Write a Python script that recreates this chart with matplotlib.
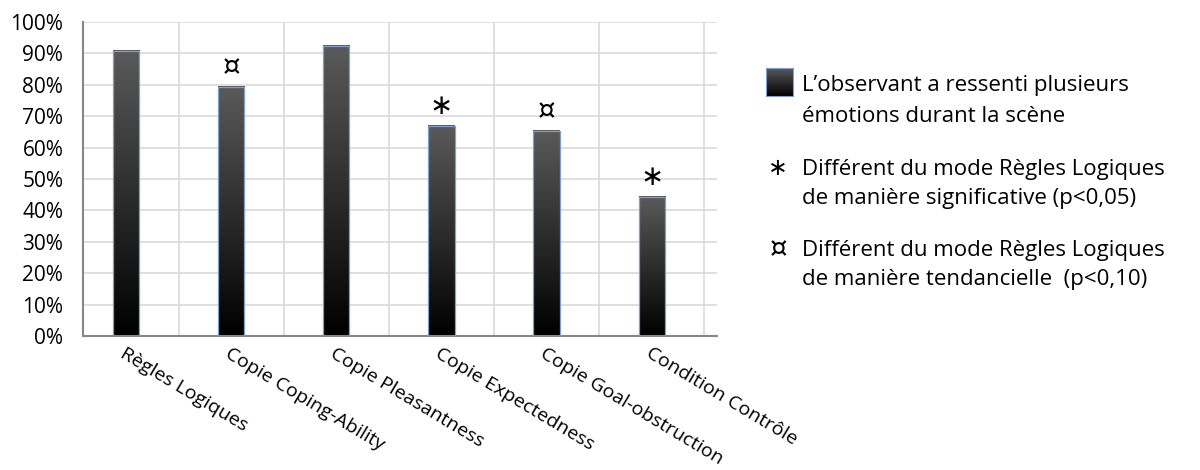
import numpy as np
import matplotlib.pyplot as plt
import matplotlib.colors as mcol
from matplotlib.patches import Rectangle
from matplotlib.transforms import ScaledTranslation

plt.rcParams['font.family'] = ['Open Sans', 'DejaVu Sans']

# data
categories = ["Règles Logiques", "Copie Coping-Ability", "Copie Pleasantness",
              "Copie Expectedness", "Copie Goal-obstruction", "Condition Contrôle"]
values = [0.909, 0.794, 0.924, 0.670, 0.653, 0.444]
marks = ["", "¤", "", "∗", "¤", "∗"]

legend_lines = ["L’observant a ressenti plusieurs", "émotions durant la scène",
                "Différent du mode Règles Logiques", "de manière significative (p<0,05)",
                "Différent du mode Règles Logiques", "de manière tendancielle  (p<0,10)"]

fig = plt.figure(figsize=(12, 4.7), dpi=100)
ax = fig.add_axes([0.069, 0.285, 0.5285, 0.668])

# gradient from gray at top to black at bottom
grad_cmap = mcol.LinearSegmentedColormap.from_list("g", ["#000000", "#5a5a5a"])
gradient = np.linspace(0, 1, 256).reshape(-1, 1)

width = 0.25
x = np.arange(len(categories))
for xi, v, m in zip(x, values, marks):
    ax.imshow(gradient, cmap=grad_cmap, origin="lower", aspect="auto",
              extent=[xi - width / 2, xi + width / 2, 0, v], zorder=2)
    ax.add_patch(Rectangle((xi - width / 2, 0), width, v, fill=False,
                           edgecolor="#7f9fd0", linewidth=0.9, zorder=3))
    if m:
        ax.annotate(m, (xi, v), xytext=(0, 14), textcoords="offset points",
                    ha="center", va="center", fontsize=20,
                    family=["DejaVu Sans"], zorder=4)

ax.set_xlim(-0.41, 5.62)
ax.set_ylim(0, 1.0)

ax.set_yticks(np.arange(0, 1.01, 0.1))
ax.set_yticklabels([f"{int(round(t * 100))}%" for t in np.arange(0, 1.01, 0.1)],
                   fontsize=15)
ax.set_xticks(x)
ax.set_xticklabels(categories, rotation=-31, ha="left", va="top",
                   rotation_mode="anchor", fontsize=14)
offset = ScaledTranslation(-8 / 100, -4 / 100, fig.dpi_scale_trans)
for lab in ax.get_xticklabels():
    lab.set_transform(lab.get_transform() + offset)
ax.tick_params(axis="x", length=0, pad=6)
ax.tick_params(axis="y", length=0, pad=14)

# grid
for gy in np.arange(0.1, 1.01, 0.1):
    ax.axhline(gy, color="#d9d9d9", linewidth=1.2, zorder=1)
for gx in np.arange(0.5, 5.6, 1.0):
    ax.axvline(gx, color="#d9d9d9", linewidth=1.2, zorder=1)

for s in ["top", "right"]:
    ax.spines[s].set_visible(False)
ax.spines["left"].set_color("#868686")
ax.spines["bottom"].set_color("#868686")
ax.spines["left"].set_linewidth(1.5)
ax.spines["bottom"].set_linewidth(1.5)

# legend drawn by hand
W, H = 1200, 470
lax = fig.add_axes([766 / W, 1 - 96 / H, 27 / W, 28 / H])
lax.imshow(gradient, cmap=grad_cmap, origin="lower", aspect="auto")
lax.set_xticks([])
lax.set_yticks([])
for s in lax.spines.values():
    s.set_color("#7f9fd0")

baselines = [91, 122, 175, 204, 256, 285]
for txt, b in zip(legend_lines, baselines):
    fig.text(802 / W, 1 - b / H, txt, fontsize=16, va="baseline")
fig.text(778 / W, 1 - 168 / H, "∗", fontsize=17, ha="center", va="center",
         family=["DejaVu Sans"])
fig.text(778 / W, 1 - 249 / H, "¤", fontsize=20, ha="center", va="center",
         family=["DejaVu Sans"])

fig.savefig("out.png", dpi=100)
